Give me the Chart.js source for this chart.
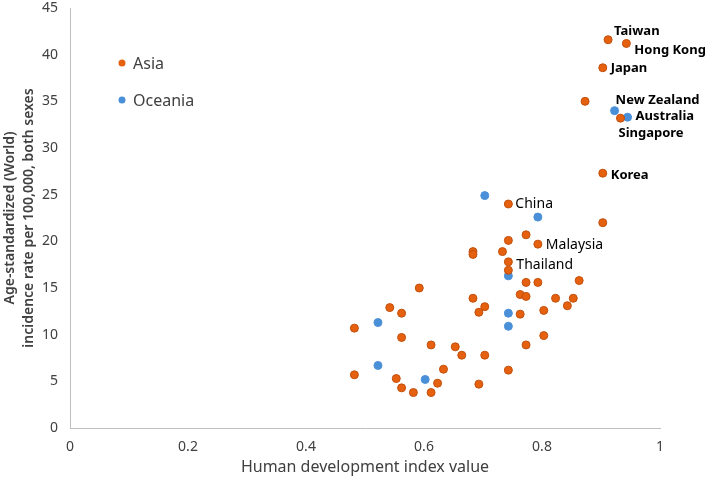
<!DOCTYPE html>
<html>
<head>
<meta charset="utf-8">
<script src="https://cdn.jsdelivr.net/npm/chart.js@4.4.1/dist/chart.umd.min.js"></script>
<style>
  html, body { margin: 0; padding: 0; background: #fff; }
  #wrap { width: 708px; height: 486px; }
</style>
</head>
<body>
<div id="wrap"><canvas id="chart"></canvas></div>
<script>
// Human development index (x) vs age-standardized incidence rate (y)
const asiaHdi = [0.912, 0.943, 0.903, 0.873, 0.933, 0.903, 0.903, 0.743, 0.773, 0.743,
  0.793, 0.683, 0.683, 0.733, 0.743, 0.743, 0.773, 0.793, 0.863, 0.683,
  0.763, 0.773, 0.823, 0.853, 0.843, 0.703, 0.693, 0.763, 0.803, 0.773,
  0.803, 0.664, 0.703, 0.743, 0.693, 0.592, 0.542, 0.562, 0.482, 0.562,
  0.612, 0.653, 0.482, 0.633, 0.553, 0.623, 0.562, 0.582, 0.612];
const asiaRate = [41.6, 41.2, 38.6, 35.0, 33.2, 27.3, 22.0, 24.0, 20.7, 20.1,
  19.7, 18.9, 18.6, 18.9, 17.8, 16.9, 15.6, 15.6, 15.8, 13.9,
  14.3, 14.1, 13.9, 13.9, 13.1, 13.0, 12.4, 12.2, 12.6, 8.9,
  9.9, 7.8, 7.8, 6.2, 4.7, 15.0, 12.9, 12.3, 10.7, 9.7,
  8.9, 8.7, 5.7, 6.3, 5.3, 4.8, 4.3, 3.8, 3.8];
const asiaNames = ["Taiwan", "Hong Kong", "Japan", "", "Singapore", "Korea", "", "China", "", "",
  "Malaysia", "", "", "", "Thailand"];

const oceaniaHdi = [0.703, 0.793, 0.743, 0.743, 0.743, 0.923, 0.945, 0.522, 0.522, 0.602];
const oceaniaRate = [24.9, 22.6, 16.3, 12.3, 10.9, 34.0, 33.3, 11.3, 6.7, 5.2];
const oceaniaNames = ["", "", "", "", "", "New Zealand", "Australia"];

const boldNames = ["Taiwan", "Hong Kong", "Japan", "Singapore", "Korea", "New Zealand", "Australia"];
// label offset from its point, in pixels
const labelOffset = {
  "Taiwan": [6, -8], "Hong Kong": [8, 7], "Japan": [8, 1], "Singapore": [-2, 15],
  "Korea": [8, 2], "China": [7, 0], "Malaysia": [8, 1], "Thailand": [8, 3],
  "New Zealand": [1, -10], "Australia": [8, -1],
};

const xTicks = [0, 0.2, 0.4, 0.6, 0.8, 1];
const ASIA = "#e5600f";
const OCEANIA = "#4a90d9";
const FONT = "'Noto Sans', 'Open Sans', sans-serif";

const toPoints = (xs, ys) => xs.map((x, i) => ({ x, y: ys[i] }));

const pointLabels = {
  id: "pointLabels",
  afterDatasetsDraw(chart) {
    const ctx = chart.ctx;
    const names = [asiaNames, oceaniaNames];
    ctx.save();
    ctx.fillStyle = "#000";
    ctx.textBaseline = "middle";
    ctx.textAlign = "left";
    names.forEach((list, di) => {
      const meta = chart.getDatasetMeta(di);
      list.forEach((name, i) => {
        if (!name) return;
        const el = meta.data[i];
        const off = labelOffset[name] || [6, 0];
        const bold = boldNames.includes(name);
        ctx.font = (bold ? "bold 13px " : "14px ") + FONT;
        ctx.fillText(name, el.x + off[0], el.y + off[1]);
      });
    });
    ctx.restore();
  },
};

const insideLegend = {
  id: "insideLegend",
  afterDraw(chart) {
    const ctx = chart.ctx;
    const items = [["Asia", ASIA], ["Oceania", OCEANIA]];
    ctx.save();
    ctx.textBaseline = "middle";
    ctx.font = "16px " + FONT;
    items.forEach(([label, color], i) => {
      const y = 63 + i * 37;
      ctx.beginPath();
      ctx.arc(122, y, 3.5, 0, Math.PI * 2);
      ctx.fillStyle = color;
      ctx.fill();
      ctx.fillStyle = "#404040";
      ctx.fillText(label, 133, y + 1);
    });
    ctx.restore();
  },
};

new Chart(document.getElementById("chart"), {
  type: "scatter",
  data: {
    datasets: [
      {
        label: "Asia",
        data: toPoints(asiaHdi, asiaRate),
        backgroundColor: ASIA,
        borderColor: "#c2500c",
        borderWidth: 1,
        pointRadius: 4,
      },
      {
        label: "Oceania",
        data: toPoints(oceaniaHdi, oceaniaRate),
        backgroundColor: OCEANIA,
        borderColor: OCEANIA,
        borderWidth: 1,
        pointRadius: 4,
      },
    ],
  },
  options: {
    responsive: true,
    maintainAspectRatio: false,
    animation: false,
    layout: { padding: { top: 8, right: 48, left: 0, bottom: 0 } },
    plugins: {
      legend: { display: false },
      tooltip: { enabled: false },
    },
    scales: {
      x: {
        type: "linear",
        min: 0,
        max: 1,
        afterBuildTicks: (scale) => { scale.ticks = xTicks.map(v => ({ value: v })); },
        afterFit: (scale) => { scale.height = 58; },
        grid: { display: false, drawTicks: false },
        border: { color: "#bfbfbf", width: 1 },
        ticks: {
          padding: 11,
          color: "#404040",
          font: { family: FONT, size: 14 },
          callback: (v) => String(v),
        },
        title: {
          display: true,
          text: "Human development index value",
          color: "#404040",
          font: { family: FONT, size: 16 },
          padding: { top: 4, bottom: 9 },
        },
      },
      y: {
        type: "linear",
        min: 0,
        max: 45,
        afterFit: (scale) => {
          scale.width = 70;
          scale.paddingTop = 0;
          scale.paddingBottom = 0;
        },
        grid: { display: false, drawTicks: false },
        border: { color: "#bfbfbf", width: 1 },
        ticks: {
          stepSize: 5,
          padding: 12,
          color: "#404040",
          font: { family: FONT, size: 14 },
        },
        title: {
          display: true,
          text: ["Age-standardized (World)", "incidence rate per 100,000, both sexes"],
          color: "#404040",
          font: { family: FONT, size: 14, weight: "600", lineHeight: 1.4 },
          padding: { top: 0, bottom: 0 },
        },
      },
    },
  },
  plugins: [pointLabels, insideLegend],
});
</script>
</body>
</html>
